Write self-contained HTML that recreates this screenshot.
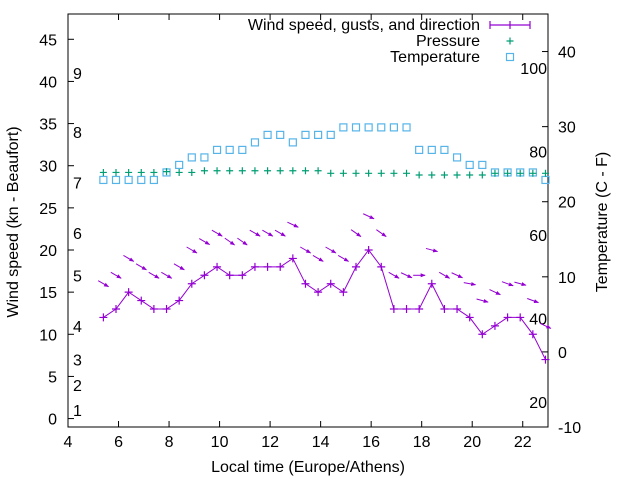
<!DOCTYPE html>
<html><head><meta charset="utf-8"><style>
body{margin:0;background:#fff}
svg{display:block;font-family:"Liberation Sans",sans-serif}
</style></head><body>
<svg id="c" width="640" height="480" xmlns="http://www.w3.org/2000/svg">
<defs><marker id="ah" viewBox="0 0 10 10" refX="9" refY="5" markerWidth="5" markerHeight="5" orient="auto"><path d="M0,1 L10,5 L0,9 Z" fill="#9400d3"/></marker></defs>
</svg>
<script>
const times=[5.4,5.9,6.4,6.9,7.4,7.9,8.4,8.9,9.4,9.9,10.4,10.9,11.4,11.9,12.4,12.9,13.4,13.9,14.4,14.9,15.4,15.9,16.4,16.9,17.4,17.9,18.4,18.9,19.4,19.9,20.4,20.9,21.4,21.9,22.4,22.9];
const wind=[12,13,15,14,13,13,14,16,17,18,17,17,18,18,18,19,16,15,16,15,18,20,18,13,13,13,16,13,13,12,10,11,12,12,10,7];
const gusts=[16,17,19,18,17,17,18,20,21,22,21,21,22,22,22,23,20,19,20,19,22,24,22,17,17,17,20,17,17,16,14,15,16,16,14,11];
const dirs=[30,30,30,30,30,30,30,30,30,30,35,35,30,30,30,25,30,30,30,30,35,25,35,30,25,0,15,30,25,10,15,25,20,15,20,25];
const pressure=[29.2,29.2,29.2,29.2,29.2,29.3,29.2,29.2,29.4,29.4,29.4,29.4,29.4,29.4,29.4,29.4,29.4,29.4,29.1,29.1,29.1,29.1,29.1,29.1,29.1,28.9,28.9,28.9,28.9,28.9,28.9,29.1,29.1,29.1,29.1,29.1];
const temps=[22.9,22.9,22.9,22.9,22.9,23.9,24.9,25.9,25.9,26.9,26.9,26.9,27.9,28.9,28.9,27.9,28.9,28.9,28.9,29.9,29.9,29.9,29.9,29.9,29.9,26.9,26.9,26.9,25.9,24.9,24.9,23.9,23.9,23.9,23.9,22.9];
const xTicks=[4,6,8,10,12,14,16,18,20,22];
const yTicks=[0,5,10,15,20,25,30,35,40,45];
const y2Ticks=[-10,0,10,20,30,40];
const bft=[[1,1],[2,4],[3,7],[4,11],[5,17],[6,22],[7,28],[8,34],[9,41]];
const fahr=[20,40,60,80,100];

const L=68,R=548,T=14,B=427;
const X=v=>L+(v-4)/(23-4)*(R-L);
const Y=v=>B-(v+1)/(48+1)*(B-T);
const Y2=v=>B-(v+10)/(45+10)*(B-T);
const svg=document.getElementById('c');
const NS='http://www.w3.org/2000/svg';
function mk(tag,attrs,parent){const e=document.createElementNS(NS,tag);for(const k in attrs)e.setAttribute(k,attrs[k]);(parent||svg).appendChild(e);return e;}
function txt(s,x,y,anchor,size){const t=mk('text',{x:x,y:y,'text-anchor':anchor,'font-size':size||16,fill:'#000'});t.textContent=s;return t;}

const fr=mk('rect',{x:L,y:T,width:R-L,height:B-T,fill:'none',stroke:'#000','stroke-width':1});


xTicks.forEach(v=>{
  const x=X(v);
  mk('line',{x1:x,y1:B,x2:x,y2:B-6,stroke:'#000'});
  mk('line',{x1:x,y1:T,x2:x,y2:T+6,stroke:'#000'});
  const t=txt(String(v),x,B+20,'middle');
  
  
});
yTicks.forEach(v=>{
  const y=Y(v);
  mk('line',{x1:L,y1:y,x2:L+6,y2:y,stroke:'#000'});
  const t=txt(String(v),L-11,y+6,'end');
  
  
});
y2Ticks.forEach(v=>{
  const y=Y2(v);
  mk('line',{x1:R,y1:y,x2:R-6,y2:y,stroke:'#000'});
  const t=txt(String(v),R+10,y+6,'start');
  
  
});
bft.forEach(b=>{
  const t=txt(String(b[0]),73,Y(b[1])+6,'start');
  
  
});
fahr.forEach(f=>{
  const t=txt(String(f),547,Y2((f-32)*5/9)+6,'end');
  
  
});
let t=txt('Local time (Europe/Athens)',308,472,'middle');


t=txt('Wind speed (kn - Beaufort)',0,0,'middle');
t.setAttribute('transform','translate(18,222) rotate(-90)');


t=txt('Temperature (C - F)',0,0,'middle');
t.setAttribute('transform','translate(607,222) rotate(-90)');



temps.forEach((v,i)=>{
  const x=X(times[i]),y=Y2(v);
  if(x>R+1)return;
  const s=mk('rect',{x:x-3.5,y:y-3.5,width:7,height:7,fill:'none',stroke:'#56b4e9','stroke-width':1.2});
  
  
});
pressure.forEach((v,i)=>{
  const x=X(times[i]),y=Y(v);
  const p=mk('path',{d:`M${x-3.5},${y}h7M${x},${y-3.5}v7`,stroke:'#009e73','stroke-width':1.2});
  
  
});
const line=mk('polyline',{points:wind.map((v,i)=>X(times[i])+','+Y(v)).join(' '),fill:'none',stroke:'#9400d3','stroke-width':1});


wind.forEach((v,i)=>{
  const x=X(times[i]),y=Y(v);
  const p=mk('path',{d:`M${x-4},${y}h8M${x},${y-4}v8`,stroke:'#9400d3','stroke-width':1.2});
  
  
});
gusts.forEach((v,i)=>{
  const cx=X(times[i]),cy=Y(v),a=dirs[i]*Math.PI/180,l=6;
  const dx=Math.cos(a)*l,dy=Math.sin(a)*l;
  const ar=mk('line',{x1:cx-dx,y1:cy-dy,x2:cx+dx,y2:cy+dy,stroke:'#9400d3','stroke-width':1,'marker-end':'url(#ah)'});
  
  
});
const lg=mk('g',{});


[['Wind speed, gusts, and direction',30],['Pressure',46],['Temperature',62]].forEach(r=>{
  const e=txt(r[0],480,r[1],'end');
  lg.appendChild(e);
  
  
});
mk('path',{d:'M490,25h40M490,21v8M530,21v8M510,21v8',stroke:'#9400d3','stroke-width':1.2},lg);
mk('path',{d:'M506.5,41h7M510,37.5v7',stroke:'#009e73','stroke-width':1.2},lg);
mk('rect',{x:506.5,y:53.5,width:7,height:7,fill:'none',stroke:'#56b4e9','stroke-width':1.2},lg);
</script>
</body></html>
